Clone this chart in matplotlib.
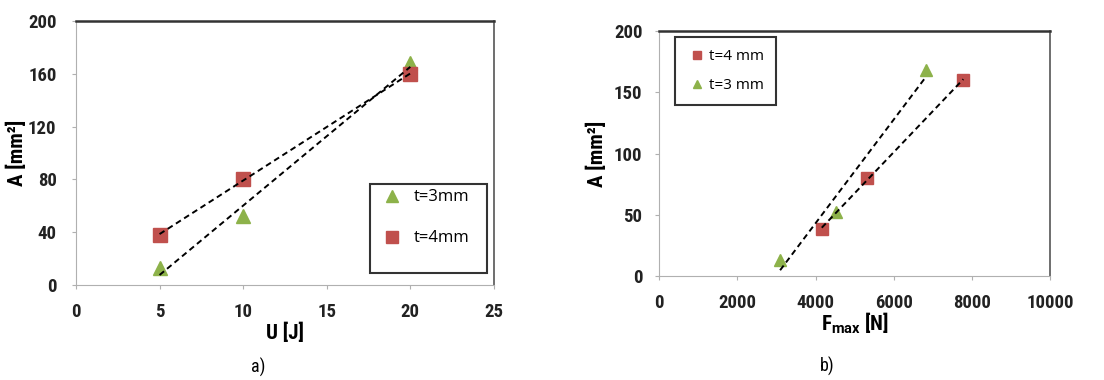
import numpy as np
import matplotlib
matplotlib.use("Agg")
import matplotlib.pyplot as plt
from matplotlib.patches import Rectangle

plt.rcParams["font.family"] = ["DejaVu Sans Condensed", "Roboto Condensed",
                               "Liberation Sans Narrow", "Roboto", "DejaVu Sans"]
plt.rcParams["mathtext.fontset"] = "custom"
plt.rcParams["mathtext.bf"] = "Roboto:bold"
plt.rcParams["mathtext.default"] = "bf"

# panel a: A vs U
energia = [5, 10, 20]
area_t3_a = [13, 52, 168]
area_t4_a = [38, 80, 160]

# panel b: A vs Fmax
fuerza_t4 = [4160, 5310, 7780]
area_t4_b = [38, 80, 160]
fuerza_t3 = [3095, 4530, 6830]
area_t3_b = [13, 52, 168]

rojo = "#c0504d"
verde = "#8db24a"
gris = "#b0b0b0"
fuente_leyenda = ["Open Sans", "DejaVu Sans"]


def tendencia(ax, x, y):
    m, b = np.polyfit(x, y, 1)
    xs = np.array([min(x), max(x)])
    ax.plot(xs, m * xs + b, color="black", linestyle=(0, (3, 2)), linewidth=1.4, zorder=3)


def estilo_ejes(ax, ypad):
    ax.spines["left"].set_color(gris)
    ax.spines["bottom"].set_color(gris)
    ax.spines["top"].set_color("#333333")
    ax.spines["right"].set_color("#555555")
    ax.spines["top"].set_linewidth(1.8)
    ax.spines["right"].set_linewidth(1.2)
    ax.tick_params(length=3, color=gris, labelsize=13.5)
    ax.tick_params(axis="x", pad=10)
    ax.tick_params(axis="y", pad=ypad)
    for lab in ax.get_xticklabels() + ax.get_yticklabels():
        lab.set_fontweight("bold")
        lab.set_color("#222222")


fig = plt.figure(figsize=(11.04, 3.8), dpi=100)

# ---- a)
ax1 = fig.add_axes([0.0688, 0.25, 0.3786, 0.6947])
ax1.plot(energia, area_t3_a, "^", color=verde, markersize=10, label="t=3mm", zorder=2)
ax1.plot(energia, area_t4_a, "s", color=rojo, markersize=10, label="t=4mm", zorder=2)
tendencia(ax1, energia, area_t3_a)
tendencia(ax1, energia, area_t4_a)
ax1.set_xlim(0, 25)
ax1.set_ylim(0, 200)
ax1.set_xticks(range(0, 26, 5))
ax1.set_yticks(range(0, 201, 40))
ax1.set_xlabel("U [J]", fontsize=15, fontweight="bold", labelpad=1)
ax1.set_ylabel("A [mm²]", fontsize=15, fontweight="bold", labelpad=1)
estilo_ejes(ax1, 11)
leg1 = ax1.legend(loc="upper left", bbox_to_anchor=(0.713, 0.4), frameon=False,
                  markerscale=0.8, labelspacing=1.5, borderpad=0.6, borderaxespad=0,
                  handlelength=1.0, handletextpad=0.8,
                  prop={"family": fuente_leyenda, "size": 12})
ax1.add_patch(Rectangle((0.703, 0.045), 0.28, 0.337, transform=ax1.transAxes,
                        fill=False, edgecolor="#333333", linewidth=1.5, zorder=4))
fig.text(0.234, 0.034, "a)", ha="center", va="center", fontsize=13)

# ---- b)
ax2 = fig.add_axes([0.597, 0.2737, 0.3542, 0.6447])
ax2.plot(fuerza_t4, area_t4_b, "s", color=rojo, markersize=9, label="t=4 mm", zorder=2)
ax2.plot(fuerza_t3, area_t3_b, "^", color=verde, markersize=9, label="t=3 mm", zorder=2)
tendencia(ax2, fuerza_t3, area_t3_b)
tendencia(ax2, fuerza_t4, area_t4_b)
ax2.set_xlim(0, 10000)
ax2.set_ylim(0, 200)
ax2.set_xticks(range(0, 10001, 2000))
ax2.set_yticks(range(0, 201, 50))
ax2.set_xlabel("F$_{max}$ [N]", fontsize=15, fontweight="bold", labelpad=-1)
ax2.set_ylabel("A [mm²]", fontsize=15, fontweight="bold", labelpad=5)
estilo_ejes(ax2, 9)
leg2 = ax2.legend(loc="upper left", bbox_to_anchor=(0.041, 0.975), markerscale=0.6,
                  labelspacing=0.9, borderpad=0.8, borderaxespad=0,
                  handletextpad=0.2, handlelength=1.2,
                  fancybox=False, framealpha=1,
                  prop={"family": fuente_leyenda, "size": 11})
leg2.get_frame().set_edgecolor("#333333")
leg2.get_frame().set_linewidth(1.5)
fig.text(0.749, 0.036, "b)", ha="center", va="center", fontsize=13)

fig.savefig("out.png", dpi=100, facecolor="white")
